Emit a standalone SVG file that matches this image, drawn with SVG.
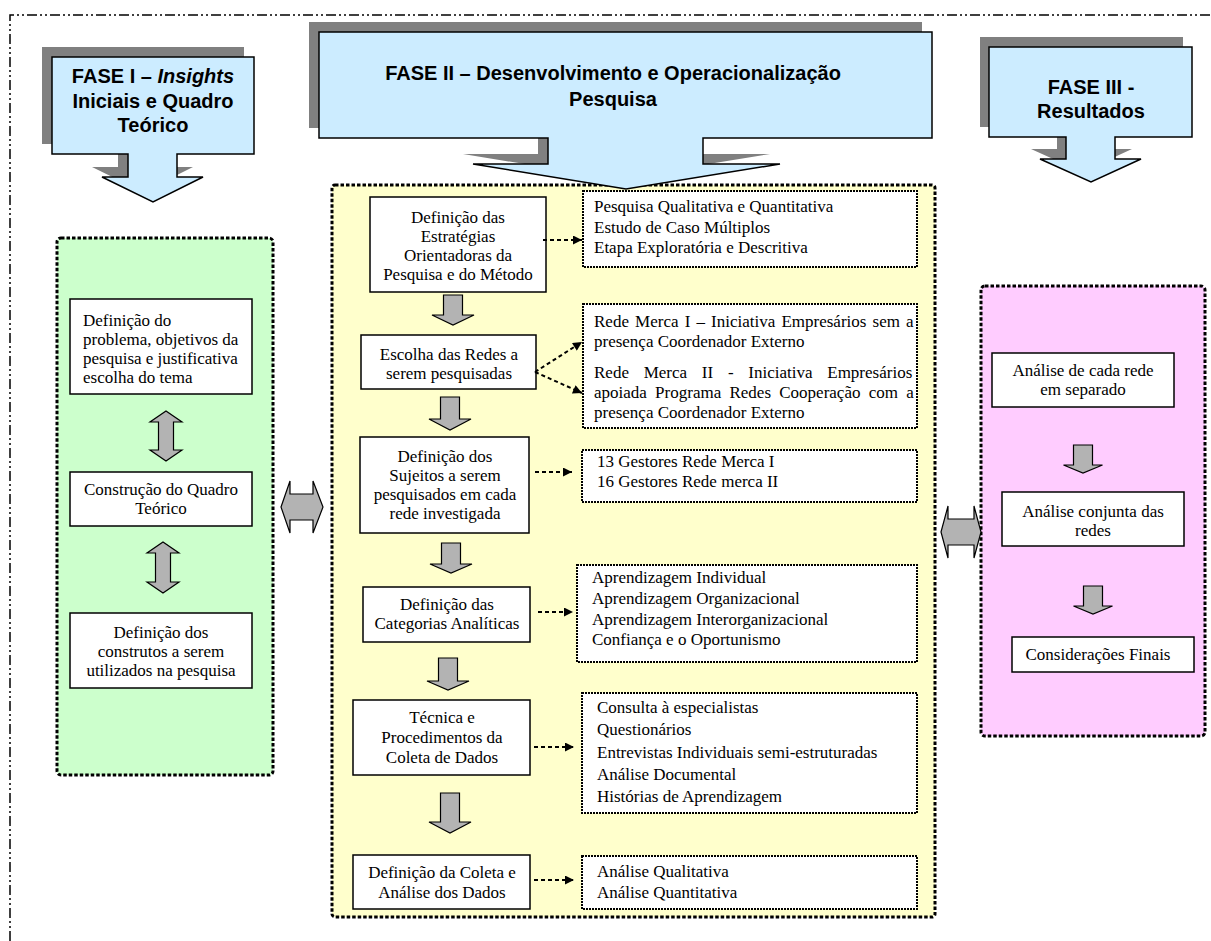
<svg xmlns="http://www.w3.org/2000/svg" width="1211" height="941" viewBox="0 0 1211 941">
  <style>
    .hdr{font-family:"Liberation Sans",Arial,sans-serif;font-weight:bold;font-size:20px;text-anchor:middle;fill:#000}
    .t{font-family:"Liberation Serif","Times New Roman",serif;font-size:17px;fill:#000}
    .c{text-anchor:middle}
    .box{fill:#fff;stroke:#000;stroke-width:1.5}
    .dbox{fill:#fff;stroke:#000;stroke-width:2;stroke-dasharray:2 1}
    .panel{stroke:#000;stroke-width:3;stroke-dasharray:3.5 2}
    .call{fill:#CCECFF;stroke:#000;stroke-width:1.5}
    .shadow{fill:#808080}
    .garrow{fill:#B3B3B3;stroke:#000;stroke-width:1.2}
    .dash{stroke:#000;stroke-width:2;stroke-dasharray:4 3;fill:none;marker-end:url(#ah)}
  </style>
  <defs>
    <marker id="ah" markerUnits="userSpaceOnUse" viewBox="0 0 10 10" refX="10" refY="5" markerWidth="10" markerHeight="9" orient="auto">
      <path d="M0,0 L10,5 L0,10 Z" fill="#000"/>
    </marker>
  </defs>

  <rect width="1211" height="941" fill="#fff"/>

  <!-- outer frame -->
  <path d="M10,941 V15 H1211" fill="none" stroke="#000" stroke-width="1.5" stroke-dasharray="10 3 2 3 2 3"/>

  <!-- phase headers -->
  <g id="fase1">
    <path class="shadow" transform="translate(-10,-10)" d="M52,57 H254 V154 H177 V177 H203 L153,202 L102,177 H128 V154 H52 Z"/>
    <path class="call" d="M52,57 H254 V154 H177 V177 H203 L153,202 L102,177 H128 V154 H52 Z"/>
    <text class="hdr" x="153" y="83">FASE I – <tspan font-style="italic">Insights</tspan></text>
    <text class="hdr" x="153" y="108">Iniciais e Quadro</text>
    <text class="hdr" x="153" y="132">Teórico</text>
  </g>
  <g id="fase3">
    <path class="shadow" transform="translate(-9,-10)" d="M989,47 H1192 V137 H1115 V159 H1141 L1091,182 L1040,159 H1066 V137 H989 Z"/>
    <path class="call" d="M989,47 H1192 V137 H1115 V159 H1141 L1091,182 L1040,159 H1066 V137 H989 Z"/>
    <text class="hdr" x="1091" y="94">FASE III -</text>
    <text class="hdr" x="1091" y="118">Resultados</text>
  </g>

  <!-- phase panels -->
  <rect id="painel1" class="panel" x="57" y="238" width="216" height="537" rx="4" fill="#CCFFCC"/>
  <rect id="painel2" class="panel" x="332" y="185" width="603" height="732" rx="3" fill="#FFFFCC"/>
  <rect id="painel3" class="panel" x="981" y="286" width="224" height="450" rx="4" fill="#FFCCFF"/>

  <g id="fase2">
    <path class="shadow" transform="translate(-10,-10)" d="M319,32 H932 V138 H703 V164 H780 L626,189 L473,164 H548 V138 H319 Z"/>
    <path class="call" d="M319,32 H932 V138 H703 V164 H780 L626,189 L473,164 H548 V138 H319 Z"/>
    <text class="hdr" x="613" y="80">FASE II – Desenvolvimento e Operacionalização</text>
    <text class="hdr" x="613" y="106">Pesquisa</text>
  </g>

  <!-- phase I steps -->
  <g id="f1-problema">
    <rect class="box" x="70" y="299" width="182" height="95"/>
    <text class="t" x="83" y="326">Definição do</text>
    <text class="t" x="83" y="345">problema, objetivos da</text>
    <text class="t" x="83" y="364">pesquisa e justificativa</text>
    <text class="t" x="83" y="383">escolha do tema</text>
  </g>
  <g id="f1-quadro">
    <rect class="box" x="70" y="472" width="182" height="54"/>
    <text class="t c" x="161" y="495">Construção do Quadro</text>
    <text class="t c" x="161" y="514">Teórico</text>
  </g>
  <g id="f1-construtos">
    <rect class="box" x="70" y="613" width="182" height="75"/>
    <text class="t c" x="161" y="638">Definição dos</text>
    <text class="t c" x="161" y="657">construtos a serem</text>
    <text class="t c" x="161" y="676">utilizados na pesquisa</text>
  </g>

  <!-- phase II steps -->
  <g id="f2-estrategias">
    <rect class="box" x="370" y="197" width="176" height="95"/>
    <text class="t c" x="458" y="223">Definição das</text>
    <text class="t c" x="458" y="242">Estratégias</text>
    <text class="t c" x="458" y="261">Orientadoras da</text>
    <text class="t c" x="458" y="280">Pesquisa e do Método</text>
  </g>
  <g id="f2-redes">
    <rect class="box" x="361" y="335" width="175" height="54"/>
    <text class="t c" x="449" y="360">Escolha das Redes a</text>
    <text class="t c" x="449" y="379">serem pesquisadas</text>
  </g>
  <g id="f2-sujeitos">
    <rect class="box" x="360" y="437" width="169" height="96"/>
    <text class="t c" x="445" y="462">Definição dos</text>
    <text class="t c" x="445" y="481">Sujeitos a serem</text>
    <text class="t c" x="445" y="500">pesquisados em cada</text>
    <text class="t c" x="445" y="519">rede investigada</text>
  </g>
  <g id="f2-categorias">
    <rect class="box" x="363" y="587" width="167" height="55"/>
    <text class="t c" x="447" y="610">Definição das</text>
    <text class="t c" x="447" y="629">Categorias Analíticas</text>
  </g>
  <g id="f2-tecnica">
    <rect class="box" x="353" y="700" width="177" height="75"/>
    <text class="t c" x="442" y="723">Técnica e</text>
    <text class="t c" x="442" y="743">Procedimentos da</text>
    <text class="t c" x="442" y="763">Coleta de Dados</text>
  </g>
  <g id="f2-analise">
    <rect class="box" x="353" y="855" width="177" height="54"/>
    <text class="t c" x="442" y="878">Definição da Coleta e</text>
    <text class="t c" x="442" y="898">Análise dos Dados</text>
  </g>

  <!-- phase II details -->
  <g id="d-estrategias">
    <rect class="dbox" x="583" y="191" width="334" height="76"/>
    <text class="t" x="594" y="212">Pesquisa Qualitativa e Quantitativa</text>
    <text class="t" x="594" y="233">Estudo de Caso Múltiplos</text>
    <text class="t" x="594" y="253">Etapa Exploratória e Descritiva</text>
  </g>
  <g id="d-redes">
    <rect class="dbox" x="583" y="304" width="334" height="124"/>
    <text class="t" x="594" y="327" word-spacing="1.9">Rede Merca I – Iniciativa Empresários sem a</text>
    <text class="t" x="594" y="347">presença Coordenador Externo</text>
    <text class="t" x="594" y="378" word-spacing="10.5">Rede Merca II - Iniciativa Empresários</text>
    <text class="t" x="594" y="398" word-spacing="4">apoiada Programa Redes Cooperação com a</text>
    <text class="t" x="594" y="418">presença Coordenador Externo</text>
  </g>
  <g id="d-sujeitos">
    <rect class="dbox" x="582" y="450" width="335" height="52"/>
    <text class="t" x="597" y="467">13 Gestores Rede Merca I</text>
    <text class="t" x="597" y="487">16 Gestores Rede merca II</text>
  </g>
  <g id="d-categorias">
    <rect class="dbox" x="577" y="565" width="340" height="97"/>
    <text class="t" x="592" y="583">Aprendizagem Individual</text>
    <text class="t" x="592" y="604">Aprendizagem Organizacional</text>
    <text class="t" x="592" y="625">Aprendizagem Interorganizacional</text>
    <text class="t" x="592" y="645">Confiança e o Oportunismo</text>
  </g>
  <g id="d-tecnica">
    <rect class="dbox" x="582" y="693" width="335" height="120"/>
    <text class="t" x="597" y="713">Consulta à especialistas</text>
    <text class="t" x="597" y="735">Questionários</text>
    <text class="t" x="597" y="758">Entrevistas Individuais semi-estruturadas</text>
    <text class="t" x="597" y="780">Análise Documental</text>
    <text class="t" x="597" y="802">Histórias de Aprendizagem</text>
  </g>
  <g id="d-analise">
    <rect class="dbox" x="582" y="856" width="335" height="53"/>
    <text class="t" x="597" y="877">Análise Qualitativa</text>
    <text class="t" x="597" y="898">Análise Quantitativa</text>
  </g>

  <!-- phase III steps -->
  <g id="f3-separado">
    <rect class="box" x="992" y="353" width="182" height="54"/>
    <text class="t c" x="1083" y="376">Análise de cada rede</text>
    <text class="t c" x="1083" y="395">em separado</text>
  </g>
  <g id="f3-conjunta">
    <rect class="box" x="1002" y="492" width="182" height="54"/>
    <text class="t c" x="1093" y="517">Análise conjunta das</text>
    <text class="t c" x="1093" y="536">redes</text>
  </g>
  <g id="f3-final">
    <rect class="box" x="1012" y="637" width="182" height="35"/>
    <text class="t c" x="1098" y="660">Considerações Finais</text>
  </g>

  <!-- connectors -->
  <g id="connectors">
    <!-- block arrows -->
    <path class="garrow" d="M166,411 L182,422 H173.5 V450 H182 L166,461 L150,450 H158.5 V422 H150 Z"/>
    <path class="garrow" d="M163,542 L179,553 H170.5 V582 H179 L163,593 L147,582 H155.5 V553 H147 Z"/>
    <path class="garrow" d="M281,507 L290,481 V494 H313 V481 L323,507 L313,533 V520 H290 V533 Z"/>
    <path class="garrow" d="M941,532 L948,506 V519 H974 V506 L981,532 L974,558 V545 H948 V558 Z"/>
    <path class="garrow" d="M443.5,295 H462.5 V315 H474 L453,325 L432,315 H443.5 Z"/>
    <path class="garrow" d="M440.5,397 H459.5 V419 H471 L450,430 L429,419 H440.5 Z"/>
    <path class="garrow" d="M441.5,543 H460.5 V564 H472 L451,573 L430,564 H441.5 Z"/>
    <path class="garrow" d="M438.5,658 H457.5 V681 H469 L448,690 L427,681 H438.5 Z"/>
    <path class="garrow" d="M440.5,793 H459.5 V822 H471 L450,833 L429,822 H440.5 Z"/>
    <path class="garrow" d="M1073.5,445 H1092.5 V465 H1102.5 L1083,473 L1063.5,465 H1073.5 Z"/>
    <path class="garrow" d="M1083.5,586 H1102.5 V606 H1112.5 L1093,614 L1073.5,606 H1083.5 Z"/>
    <!-- dashed links to details -->
    <path class="dash" d="M543,240 H582"/>
    <path class="dash" d="M535,372 L582,342"/>
    <path class="dash" d="M535,372 L582,393"/>
    <path class="dash" d="M535,472 H572"/>
    <path class="dash" d="M538,612 H573"/>
    <path class="dash" d="M534,747 H574"/>
    <path class="dash" d="M534,880 H574"/>
  </g>
</svg>
